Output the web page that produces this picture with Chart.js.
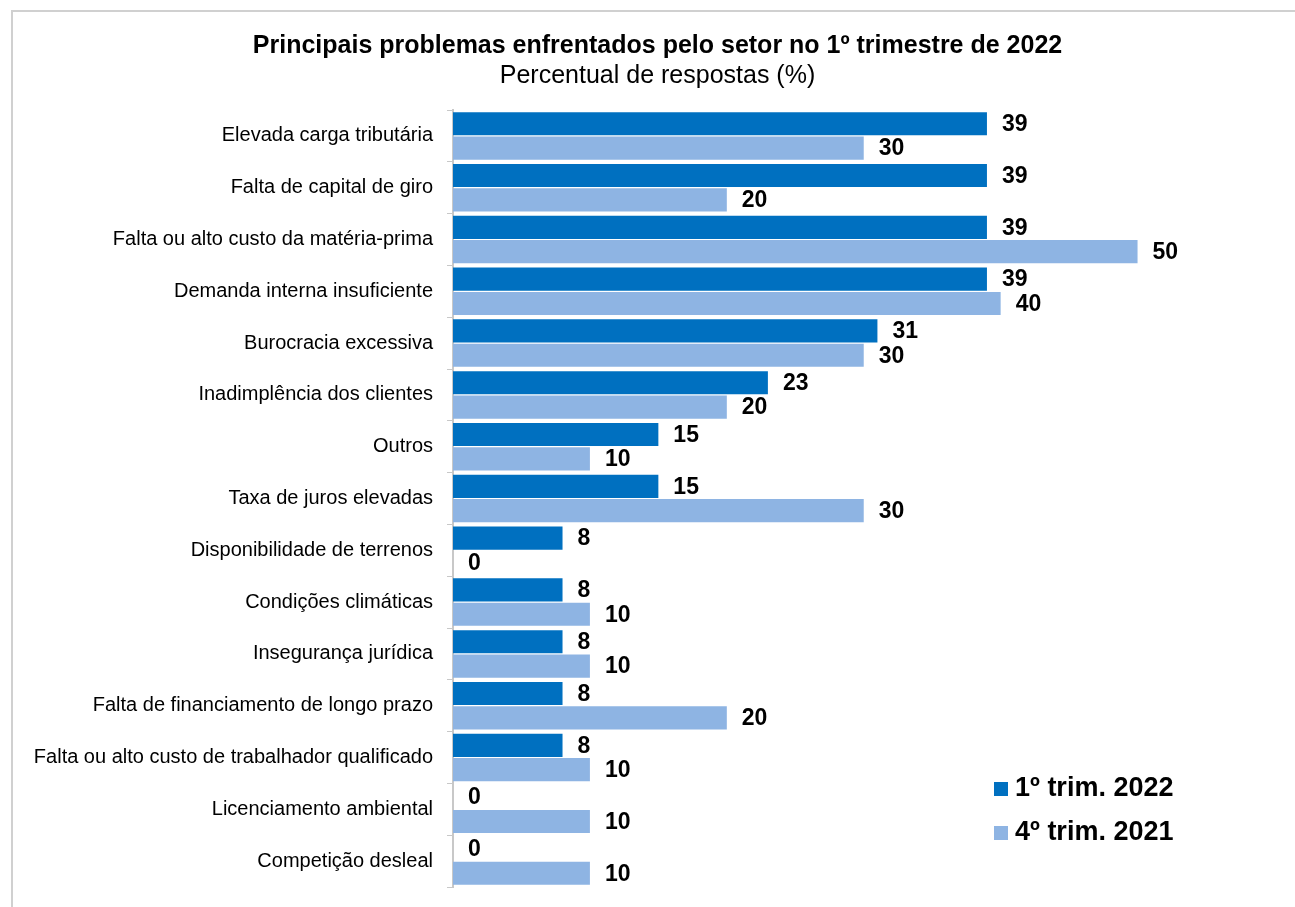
<html>
<head>
<meta charset="utf-8">
<style>
  body { margin:0; background:#fff; }
  #frame { position:absolute; left:11px; top:10px; width:1300px; height:920px; border-top:2px solid #d0d0d0; border-left:2px solid #d0d0d0; }
  #wrap { position:absolute; left:0; top:0; width:1295px; height:907px; }
</style>
</head>
<body>
<div id="frame"></div>
<div id="wrap"><canvas id="myChart"></canvas></div>
<script src="https://cdn.jsdelivr.net/npm/chart.js@4.4.0/dist/chart.umd.min.js"></script>
<script>
var categories = ['Elevada carga tributária','Falta de capital de giro','Falta ou alto custo da matéria-prima','Demanda interna insuficiente','Burocracia excessiva','Inadimplência dos clientes','Outros','Taxa de juros elevadas','Disponibilidade de terrenos','Condições climáticas','Insegurança jurídica','Falta de financiamento de longo prazo','Falta ou alto custo de trabalhador qualificado','Licenciamento ambiental','Competição desleal'];
var trim1_2022 = [39,39,39,39,31,23,15,15,8,8,8,8,8,0,0];
var trim4_2021 = [30,20,50,40,30,20,10,30,0,10,10,20,10,10,10];
var seriesNames = ['1º trim. 2022','4º trim. 2021'];
var seriesColors = ['#0070C0','#8EB4E3'];

var FONT = "'Liberation Sans', Arial, sans-serif";

// value labels next to bar ends
var valueLabels = {
    id: 'valueLabels',
    afterDatasetsDraw: function(chart){
        var ctx = chart.ctx;
        ctx.save();
        ctx.font = 'bold 23px ' + FONT;
        ctx.fillStyle = '#000';
        ctx.textAlign = 'left';
        ctx.textBaseline = 'middle';
        chart.data.datasets.forEach(function(ds, i){
            chart.getDatasetMeta(i).data.forEach(function(bar, j){
                ctx.fillText(ds.data[j], bar.x + 15, bar.y + 1);
            });
        });
        ctx.restore();
    }
};

// legend drawn inside the plot, bottom right
var cornerLegend = {
    id: 'cornerLegend',
    afterDraw: function(chart){
        var ctx = chart.ctx;
        ctx.save();
        ctx.font = 'bold 27px ' + FONT;
        ctx.textAlign = 'left';
        ctx.textBaseline = 'middle';
        chart.data.datasets.forEach(function(ds, i){
            var y = 789 + i * 44;
            ctx.fillStyle = ds.backgroundColor;
            ctx.fillRect(994, y - 7, 14, 14);
            ctx.fillStyle = '#000';
            ctx.fillText(ds.label, 1015, y);
        });
        ctx.restore();
    }
};

var ctx = document.getElementById('myChart').getContext('2d');
var chart = new Chart(ctx, {
    type: 'bar',
    data: {
        labels: categories,
        datasets: [
            { label: seriesNames[0], data: trim1_2022, backgroundColor: seriesColors[0], categoryPercentage: 0.94, barPercentage: 0.95 },
            { label: seriesNames[1], data: trim4_2021, backgroundColor: seriesColors[1], categoryPercentage: 0.94, barPercentage: 0.95 }
        ]
    },
    plugins: [valueLabels, cornerLegend],
    options: {
        indexAxis: 'y',
        responsive: true,
        maintainAspectRatio: false,
        animation: false,
        layout: { padding: { left: 20, right: 0, top: 31, bottom: 20 } },
        plugins: {
            legend: { display: false },
            tooltip: { enabled: false },
            title: {
                display: true,
                text: 'Principais problemas enfrentados pelo setor no 1º trimestre de 2022',
                color: '#000',
                font: { family: FONT, size: 25, weight: 'bold', lineHeight: 1.2 },
                padding: { top: 0, bottom: 0 }
            },
            subtitle: {
                display: true,
                text: 'Percentual de respostas (%)',
                color: '#000',
                font: { family: FONT, size: 25, lineHeight: 1.2 },
                padding: { top: 0, bottom: 19 }
            }
        },
        scales: {
            x: {
                display: false,
                min: 0,
                max: 61.5
            },
            y: {
                afterFit: function(scale){
                    scale.width = 433;
                    scale.paddingTop = 0;
                    scale.paddingBottom = 0;
                },
                ticks: { color: '#000', font: { family: FONT, size: 20 }, padding: 14 },
                grid: { drawOnChartArea: false, drawTicks: true, tickLength: 6, color: '#c8c8c8', offset: true },
                border: { display: true, color: '#c8c8c8', width: 2 }
            }
        }
    }
});
</script>
</body>
</html>
